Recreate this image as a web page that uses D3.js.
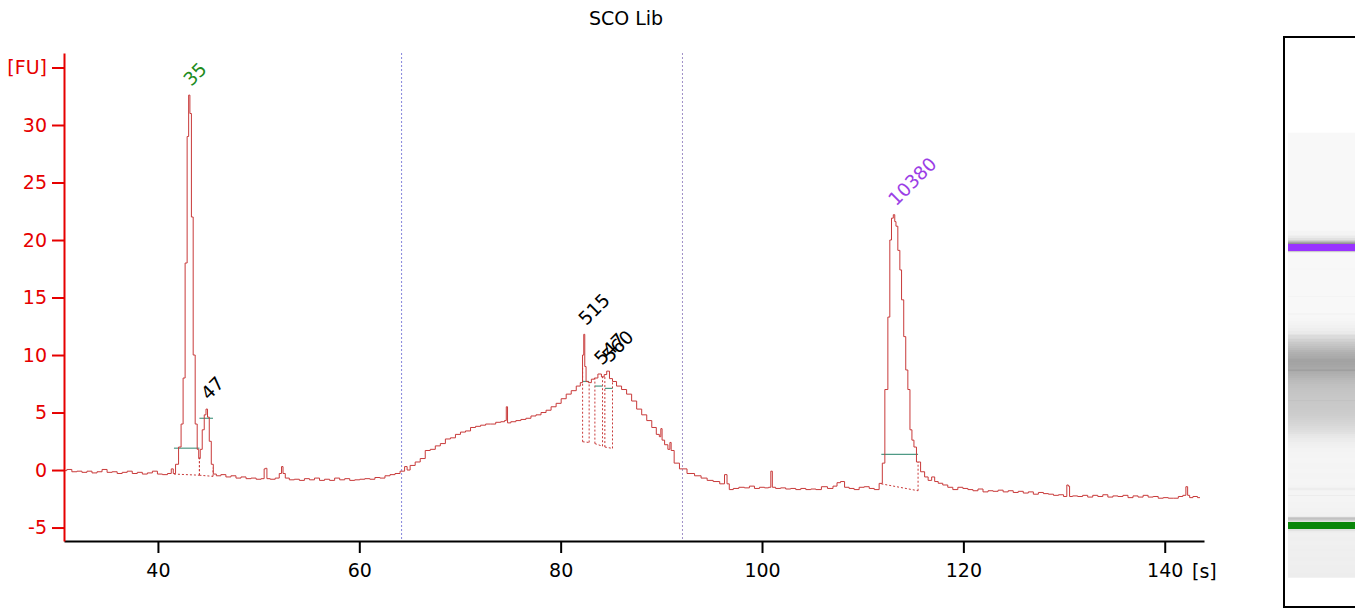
<!DOCTYPE html>
<html><head><meta charset="utf-8">
<script src="https://cdn.jsdelivr.net/npm/d3@7"></script>
<style>
html,body{margin:0;padding:0;background:#fff;overflow:hidden;}
svg{display:block;font-family:"DejaVu Sans",sans-serif;}
</style></head><body>
<svg id="chart" width="1355" height="609"></svg>
<script>
// ---------------- DATA ----------------
const chartTitle = "SCO Lib";
const xTickValues = [40, 60, 80, 100, 120, 140];
const yTickValues = [-5, 0, 5, 10, 15, 20, 25, 30, 35];
const yUnitLabel = "[FU]";
const xUnitLabel = "[s]";

// electropherogram trace: time [s]
const traceTime = [
  30.7, 31.2, 31.7, 32.2, 32.7, 33.2, 33.7, 34.2, 34.7, 35.2, 35.7, 36.2, 36.7, 37.2, 37.7, 38.2,
  38.7, 39.2, 39.7, 40.2, 40.7, 41.2, 41.45, 41.6,
  41.9, 42.2, 42.4, 42.6, 42.8, 43.0, 43.1, 43.25, 43.4, 43.6, 43.8, 44.0, 44.1, 44.3, 44.5, 44.7,
  44.85, 45.0, 45.2, 45.4, 45.6,
  46.0, 46.5, 47.0, 47.5, 48.0, 48.5, 49.0, 49.5, 50.0, 50.5, 50.6, 50.75, 50.9, 51.4, 51.9, 52.2,
  52.35, 52.5, 52.8, 53.3, 53.8, 54.3, 54.8, 55.3, 55.8, 56.3, 56.8, 57.3, 57.8, 58.3, 58.8, 59.3,
  59.8, 60.3, 60.8, 61.3, 61.8, 62.3, 62.8, 63.3, 63.8, 64.3, 64.7, 64.8, 65.3,
  65.8, 66.3, 66.8, 67.3, 67.8, 68.3, 68.8, 69.3, 69.8, 70.3, 70.8, 71.3, 71.8, 72.3, 72.8, 73.3,
  73.8, 74.3, 74.55, 74.65, 74.8, 75.3, 75.8, 76.3, 76.8, 77.3, 77.8, 78.3, 78.8, 79.3, 79.8, 80.3,
  80.8, 81.3, 81.8, 82.1, 82.25, 82.34, 82.45, 82.6, 82.9, 83.2, 83.5, 83.9, 84.2, 84.45, 84.7, 85.0,
  85.3, 85.8, 86.3, 86.8, 87.3, 87.8, 88.3, 88.8, 89.3, 89.7, 89.9, 90.0, 90.15, 90.5, 90.8, 90.9,
  91.05, 91.5, 92.1, 93.0, 93.6, 94.3, 94.8, 95.5, 96.1, 96.45, 96.6, 96.9, 97.4, 98.0, 98.5, 99.0,
  99.5, 100.0, 100.5, 100.8, 100.95, 101.1, 101.6, 102.1, 102.6, 103.1, 103.6, 104.1, 104.6, 105.1, 105.6, 106.2,
  106.8, 107.3, 107.6, 108.0, 108.4, 108.9, 109.4, 109.9, 110.4, 110.9, 111.4, 111.87,
  112.03, 112.37, 112.63, 112.76, 112.96, 113.12, 113.25, 113.36, 113.62, 113.76, 113.96, 114.19, 114.36, 114.61, 114.78, 115.0,
  115.18, 115.5, 116.0, 116.3, 116.7, 117.0, 117.3, 117.7, 118.2, 118.7, 119.2, 119.7, 120.2, 120.7, 121.2, 121.7,
  122.2, 122.7, 123.2, 123.7, 124.2, 124.7, 125.2, 125.7, 126.2, 126.7, 127.2, 127.7, 128.2, 128.7, 129.2, 129.7,
  130.2, 130.35, 130.5, 130.6, 131.1, 131.6, 132.1, 132.6, 133.1, 133.6, 134.1, 134.6, 135.1, 135.6, 136.1, 136.6,
  137.1, 137.6, 138.1, 138.6, 139.1, 139.6, 140.1, 140.6, 141.1, 141.6, 142.0, 142.2, 142.35, 142.6, 143.0, 143.5
];
// electropherogram trace: fluorescence [FU]
const traceFU = [
  -0.05, 0.05, -0.15, -0.1, -0.2, -0.1, -0.25, -0.15, 0.05, -0.2, -0.15, -0.3, -0.2, -0.1, -0.3, -0.2,
  -0.35, -0.25, -0.1, -0.35, -0.4, -0.3, 0.1, -0.3,
  0.5, 2.0, 4.0, 8.0, 18, 29, 32.6, 31, 22, 10, 4, 1.8, 1.0, 1.8, 3.5, 4.8,
  5.3, 4.6, 2.5, 0.5, -0.35,
  -0.5, -0.4, -0.6, -0.5, -0.7, -0.6, -0.75, -0.7, -0.8, -0.75, 0.1, 0.15, -0.75, -0.8, -0.7, -0.3,
  0.3, -0.3, -0.7, -0.85, -0.8, -0.9, -0.75, -0.85, -0.7, -0.9, -0.8, -0.9, -0.7, -0.85, -0.75, -0.9,
  -0.85, -0.8, -0.75, -0.8, -0.65, -0.7, -0.5, -0.4, -0.3, -0.1, 0.3, 0.0, 0.4,
  0.7, 1.0, 1.7, 1.8, 2.1, 2.3, 2.7, 2.8, 3.1, 3.3, 3.4, 3.7, 3.8, 3.9, 4.0, 4.0,
  4.15, 4.2, 4.3, 5.5, 4.1, 4.2, 4.3, 4.4, 4.5, 4.7, 4.8, 5.0, 5.2, 5.5, 5.8, 6.2,
  6.6, 6.9, 7.3, 7.6, 10.0, 11.8, 9.0, 7.7, 7.6, 7.9, 8.0, 8.35, 8.1, 8.3, 8.6, 7.95,
  7.7, 7.3, 7.0, 6.6, 6.0, 5.3, 4.8, 4.3, 3.7, 3.1, 2.9, 3.6, 2.6, 2.2, 1.8, 2.4,
  1.7, 0.6, 0.1, -0.3, -0.5, -0.7, -0.9, -1.0, -1.2, -0.4, -1.2, -1.7, -1.6, -1.5, -1.55, -1.4,
  -1.6, -1.5, -1.55, -1.5, -0.1, -1.5, -1.6, -1.55, -1.65, -1.6, -1.7, -1.6, -1.7, -1.65, -1.7, -1.45,
  -1.6, -1.4, -1.1, -1.0, -1.5, -1.6, -1.7, -1.5, -1.45, -1.6, -1.7, -1.16,
  0.6, 7.0, 13.3, 20, 21.9, 22.2, 21.6, 21.2, 19.1, 17.4, 14.8, 11.6, 8.7, 7.0, 3.5, 2.6,
  2.0, 0.7, -0.15, -0.6, -0.9, -0.6, -1.0, -1.15, -1.3, -1.5, -1.7, -1.5, -1.6, -1.7, -1.8, -1.65,
  -1.9, -1.8, -1.85, -1.75, -1.9, -1.8, -1.95, -1.85, -2.0, -1.9, -2.1, -1.95, -2.05, -2.1, -2.2, -2.15,
  -2.3, -1.3, -1.4, -2.3, -2.25, -2.3, -2.2, -2.35, -2.2, -2.3, -2.15, -2.35, -2.25, -2.3, -2.2, -2.4,
  -2.25, -2.35, -2.2, -2.35, -2.3, -2.45, -2.4, -2.45, -2.45, -2.3, -2.2, -1.45, -2.2, -2.4, -2.3, -2.4
];

// detected peaks
const peakNames = ["35", "47", "515", "547", "560", "10380"];
const peakTime  = [43.1, 44.85, 82.34, 83.9, 84.7, 113.12];
const peakFU    = [32.6, 5.3, 11.8, 8.35, 8.6, 22.2];
const peakWinStart = [41.59, 44.12, 82.18, 83.4, 84.39, 111.85];
const peakWinEnd   = [44.12, 45.47, 82.83, 84.16, 85.15, 115.5];
const peakBaseStartFU = [-0.35, -0.45, 2.46, 2.3, 2.0, -1.2];
const peakBaseEndFU   = [-0.45, -0.55, 2.4, 2.07, 1.88, -1.8];
const peakHalfFU      = [1.9, 4.5, 7.7, 7.3, 7.1, 1.36];

// region markers [s]
const regionTimes = [64.2, 92.1];

// ---------------- STYLE / LAYOUT ----------------
const axisRed = "#e60000";
const traceColor = "#c83a3a";
const halfLineColor = "#4f9a86";
const regionColors = ["#8585dc", "#a090c8"];
const labelColors = { "35": "#1e8c1e", "10380": "#9b3ee6" };
const markerBandColors = { "35": "#0a870a", "10380": "#9933ff" };
const axisFont = 19;

const svg = d3.select("#chart");
const x = d3.scaleLinear().domain([30.67, 143.9]).range([64, 1204]);
const y = d3.scaleLinear().domain([-6.17, 36.26]).range([541, 53]);

const trace = traceTime.map((t, i) => ({ t, v: traceFU[i] }));
const peaks = peakNames.map((name, i) => ({
  name, t: peakTime[i], v: peakFU[i],
  ws: peakWinStart[i], we: peakWinEnd[i],
  bs: peakBaseStartFU[i], be: peakBaseEndFU[i], half: peakHalfFU[i]
}));
const interpTrace = t => {
  const i = d3.bisector(d => d.t).right(trace, t);
  if (i <= 0) return trace[0].v;
  if (i >= trace.length) return trace[trace.length - 1].v;
  const a = trace[i - 1], b = trace[i];
  return a.v + (b.v - a.v) * (t - a.t) / (b.t - a.t);
};

// title
svg.append("text").attr("x", 626).attr("y", 25).attr("text-anchor", "middle")
  .attr("font-size", axisFont).attr("fill", "#000").text(chartTitle);

// region markers
svg.append("g").selectAll("line").data(regionTimes).join("line")
  .attr("x1", d => x(d)).attr("x2", d => x(d))
  .attr("y1", 53).attr("y2", 541)
  .attr("stroke", (d, i) => regionColors[i]).attr("stroke-width", 1).attr("stroke-dasharray", "2,2");

// peak baselines (dotted) and verticals
const pk = svg.append("g");
peaks.forEach(p => {
  pk.append("line").attr("x1", x(p.ws)).attr("x2", x(p.we))
    .attr("y1", y(p.bs)).attr("y2", y(p.be))
    .attr("stroke", traceColor).attr("stroke-width", 1).attr("stroke-dasharray", "2,2");
  [[p.ws, p.bs], [p.we, p.be]].forEach(([t, b]) => {
    const top = interpTrace(t);
    if (top - b > 0.3) {
      pk.append("line").attr("x1", x(t)).attr("x2", x(t))
        .attr("y1", y(b)).attr("y2", y(top))
        .attr("stroke", traceColor).attr("stroke-width", 1).attr("stroke-dasharray", "2,2");
    }
  });
});

// trace (stepped, like the instrument's sampled signal)
svg.append("path").datum(trace)
  .attr("d", d3.line().x(d => x(d.t)).y(d => y(d.v)).curve(d3.curveStep))
  .attr("fill", "none").attr("stroke", traceColor).attr("stroke-width", 1);

// half-height lines
pk.selectAll("line.half").data(peaks).join("line").attr("class", "half")
  .attr("x1", d => x(d.ws)).attr("x2", d => x(d.we))
  .attr("y1", d => y(d.half)).attr("y2", d => y(d.half))
  .attr("stroke", halfLineColor).attr("stroke-width", 1.2);

// peak labels
svg.append("g").selectAll("text").data(peaks).join("text")
  .attr("transform", d => `translate(${x(d.t) + 2},${y(d.v) - 8}) rotate(-45)`)
  .attr("font-size", 18.5)
  .attr("fill", d => labelColors[d.name] || "#000")
  .text(d => d.name);

// x axis
const gx = svg.append("g").attr("transform", "translate(0,541)")
  .call(d3.axisBottom(x).tickValues(xTickValues).tickSize(12).tickSizeOuter(0)
    .tickPadding(11).tickFormat(d => String(d)));
gx.select(".domain").attr("stroke", "#000").attr("stroke-width", 2);
gx.selectAll(".tick line").attr("stroke", "#000").attr("stroke-width", 2);
gx.selectAll(".tick text").attr("font-size", axisFont).attr("fill", "#000")
  .attr("font-family", '"DejaVu Sans",sans-serif');
svg.append("text").attr("x", 1192).attr("y", 578).attr("font-size", axisFont).attr("fill", "#000")
  .text(xUnitLabel);

// y axis
const gy = svg.append("g").attr("transform", "translate(64,0)")
  .call(d3.axisLeft(y).tickValues(yTickValues).tickSize(12).tickSizeOuter(0)
    .tickPadding(5).tickFormat(d => d === 35 ? yUnitLabel : String(d)));
gy.select(".domain").attr("stroke", axisRed).attr("stroke-width", 2);
gy.selectAll(".tick line").attr("stroke", axisRed).attr("stroke-width", 2);
gy.selectAll(".tick text").attr("font-size", axisFont).attr("fill", axisRed)
  .attr("font-family", '"DejaVu Sans",sans-serif');

// ---------------- gel lane ----------------
const gel = svg.append("g");
const gelY = d3.scaleLinear().domain([43.1, 113.12]).range([525.5, 247.5]);
gel.append("rect").attr("x", 1284).attr("y", 37).attr("width", 120).attr("height", 570)
  .attr("fill", "#fff").attr("stroke", "#000").attr("stroke-width", 2);
gel.append("rect").attr("x", 1288).attr("y", gelY(142.0)).attr("width", 80)
  .attr("height", gelY(30.0) - gelY(142.0)).attr("fill", "#eeeeee");
const grey = v => {
  const L = Math.max(0.3, Math.min(0.972, 0.93 - 0.035 * v));
  const c = Math.round(L * 255);
  return `rgb(${c},${c},${c})`;
};
const segs = trace.slice(0, -1).map((d, i) => ({ t0: d.t, t1: trace[i + 1].t, v: (d.v + trace[i + 1].v) / 2 }))
  .filter(d => d.t1 <= 142.0);
gel.selectAll("rect.band").data(segs).join("rect").attr("class", "band")
  .attr("x", 1288).attr("width", 80)
  .attr("y", d => gelY(d.t1) - 0.3)
  .attr("height", d => gelY(d.t0) - gelY(d.t1) + 0.6)
  .attr("fill", d => grey(d.v)).attr("shape-rendering", "crispEdges");
gel.append("rect").attr("x", 1288).attr("width", 80)
  .attr("y", gelY(30.7)).attr("height", gelY(30.0) - gelY(30.7))
  .attr("fill", grey(0));
// marker bands
gel.selectAll("rect.marker").data(peaks.filter(p => markerBandColors[p.name])).join("rect")
  .attr("class", "marker").attr("x", 1288).attr("width", 80)
  .attr("y", d => gelY(d.t) - 3.5).attr("height", 7)
  .attr("fill", d => markerBandColors[d.name]);
</script>
</body></html>
